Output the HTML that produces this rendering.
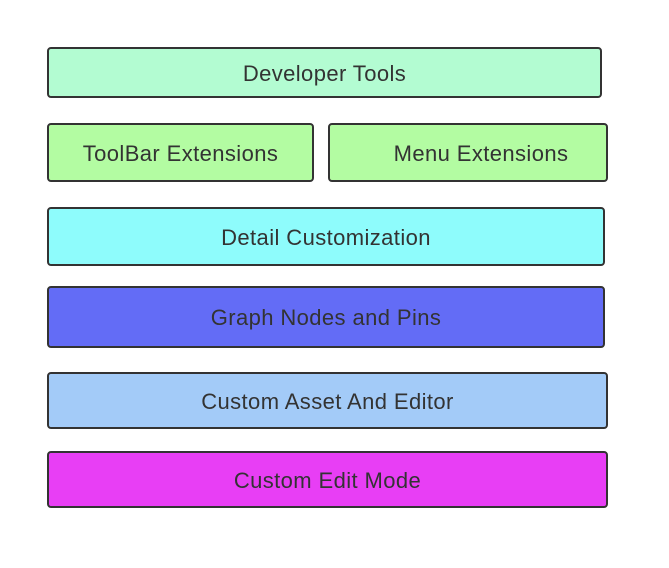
<!DOCTYPE html>
<html><head><style>
body{margin:0;width:669px;height:568px;background:#fff;position:relative;overflow:hidden;font-family:"Liberation Sans","DejaVu Sans",sans-serif;}
.b{position:absolute;box-sizing:border-box;border:2px solid #333;border-radius:4px;display:flex;align-items:center;justify-content:center;font-size:22px;letter-spacing:0.4px;color:#333;padding-top:2px;}
</style></head><body>
<div class="b" style="left:47px;top:47px;width:555px;height:51px;background:#b3fcd2">Developer Tools</div>
<div class="b" style="left:47px;top:123px;width:267px;height:59px;background:#b3fca2;padding-right:0">ToolBar Extensions</div>
<div class="b" style="left:328px;top:123px;width:280px;height:59px;background:#b3fca2;padding-left:26px">Menu Extensions</div>
<div class="b" style="left:47px;top:207px;width:558px;height:59px;background:#8efcfc">Detail Customization</div>
<div class="b" style="left:47px;top:286px;width:558px;height:62px;background:#636cf6">Graph Nodes and Pins</div>
<div class="b" style="left:47px;top:372px;width:561px;height:57px;background:#a3cbf8">Custom Asset And Editor</div>
<div class="b" style="left:47px;top:451px;width:561px;height:57px;background:#e83ef5">Custom Edit Mode</div>
</body></html>
